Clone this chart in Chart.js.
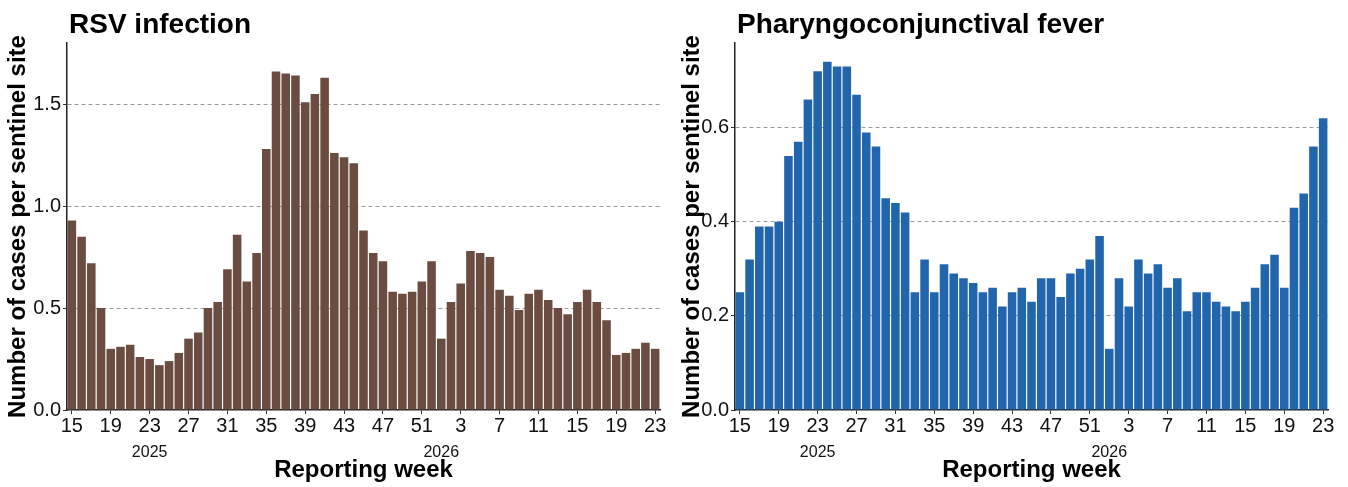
<!DOCTYPE html>
<html>
<head>
<meta charset="utf-8">
<script src="https://cdn.jsdelivr.net/npm/chart.js@4.4.1/dist/chart.umd.min.js"></script>
<style>
  html, body { margin: 0; padding: 0; background: #fff; }
  #wrap { display: flex; width: 1348px; height: 487px; }
  .panel { width: 674px; height: 487px; }
</style>
</head>
<body>
<div id="wrap">
  <div class="panel"><canvas id="rsv" width="674" height="487"></canvas></div>
  <div class="panel"><canvas id="pcf" width="674" height="487"></canvas></div>
</div>
<script>
// reporting weeks, 2025 week 15 .. 2026 week 23
const weeks = [15,16,17,18,19,20,21,22,23,24,25,26,27,28,29,30,31,32,33,34,
  35,36,37,38,39,40,41,42,43,44,45,46,47,48,49,50,51,52,
  1,2,3,4,5,6,7,8,9,10,11,12,13,14,15,16,17,18,19,20,21,22,23];
const yearNames = ['2025', '2026'];
const yearPos = [8, 38];

const rsvValues = [0.93,0.85,0.72,0.50,0.30,0.31,0.32,0.26,0.25,0.22,
  0.24,0.28,0.35,0.38,0.50,0.53,0.69,0.86,0.63,0.77,
  1.28,1.66,1.65,1.64,1.51,1.55,1.63,1.26,1.24,1.21,
  0.88,0.77,0.73,0.58,0.57,0.58,0.63,0.73,
  0.35,0.53,0.62,0.78,0.77,0.75,0.59,0.56,0.49,0.57,
  0.59,0.54,0.50,0.47,0.53,0.59,0.53,0.44,0.27,0.28,
  0.30,0.33,0.30];

const pcfValues = [0.25,0.32,0.39,0.39,0.40,0.54,0.57,0.66,0.72,0.74,
  0.73,0.73,0.67,0.59,0.56,0.45,0.44,0.42,0.25,0.32,
  0.25,0.31,0.29,0.28,0.27,0.25,0.26,0.22,0.25,0.26,
  0.23,0.28,0.28,0.24,0.29,0.30,0.32,0.37,
  0.13,0.28,0.22,0.32,0.29,0.31,0.26,0.28,0.21,0.25,
  0.25,0.23,0.22,0.21,0.23,0.26,0.31,0.33,0.26,0.43,
  0.46,0.56,0.62];

const yearLabels = weeks.map((w, i) => {
  const k = yearPos.indexOf(i);
  return k >= 0 ? yearNames[k] : '';
});

const FONT = '"Liberation Sans", Arial, sans-serif';

// title drawn flush with the plot's left edge
const panelTitle = {
  id: 'panelTitle',
  afterDraw(chart, args, opts) {
    const ctx = chart.ctx;
    ctx.save();
    ctx.font = 'bold 28px ' + FONT;
    ctx.fillStyle = '#000';
    ctx.textBaseline = 'alphabetic';
    ctx.fillText(opts.text, chart.chartArea.left + 2, 33);
    ctx.restore();
  }
};

function makeChart(id, title, values, color, yMax, step, yWidth, yTitlePad, rightPad) {
  return new Chart(document.getElementById(id), {
    type: 'bar',
    data: {
      labels: weeks.map(String),
      datasets: [{
        data: values,
        backgroundColor: color,
        borderWidth: 0,
        barPercentage: 0.88,
        categoryPercentage: 1.0
      }]
    },
    options: {
      responsive: false,
      animation: false,
      layout: { padding: { top: 43, right: rightPad, left: 0, bottom: 0 } },
      plugins: {
        legend: { display: false },
        tooltip: { enabled: false },
        panelTitle: { text: title }
      },
      scales: {
        x: {
          type: 'category',
          weight: 0,
          grid: {
            offset: false,
            drawOnChartArea: false,
            tickLength: 4,
            tickColor: (c) => (c.index % 4 === 0 ? '#333' : 'transparent')
          },
          border: { color: '#222', width: 1.5 },
          ticks: {
            autoSkip: false,
            maxRotation: 0,
            minRotation: 0,
            padding: 0,
            color: '#111',
            font: { family: FONT, size: 20 },
            callback: (v, i) => (i % 4 === 0 ? String(weeks[i]) : '')
          },
          afterFit: (s) => { s.height = 30; }
        },
        x2: {
          type: 'category',
          position: 'bottom',
          weight: 1,
          offset: true,
          labels: yearLabels,
          grid: { display: false, drawTicks: false },
          border: { display: false },
          ticks: {
            autoSkip: false,
            maxRotation: 0,
            minRotation: 0,
            padding: 3,
            color: '#111',
            font: { family: FONT, size: 16 }
          },
          title: {
            display: true,
            text: 'Reporting week',
            color: '#000',
            font: { family: FONT, size: 24, weight: 'bold' },
            padding: { top: 0, bottom: 2 }
          },
          afterFit: (s) => { s.height = 47; }
        },
        y: {
          min: 0,
          max: yMax,
          grid: {
            color: (c) => (c.tick && c.tick.value === 0 ? 'transparent' : '#9a9a9a'),
            lineWidth: 1,
            tickLength: 4,
            tickColor: '#333'
          },
          border: { color: '#222', width: 1.5, dash: [4, 3] },
          ticks: {
            stepSize: step,
            includeBounds: false,
            padding: 2,
            color: '#111',
            font: { family: FONT, size: 20 },
            callback: (v) => Number(v).toFixed(1)
          },
          title: {
            display: true,
            text: 'Number of cases per sentinel site',
            color: '#000',
            font: { family: FONT, size: 24, weight: 'bold' },
            padding: { top: 4, bottom: 0 }
          },
          afterFit: (s) => { s.width = yWidth; }
        }
      }
    },
    plugins: [panelTitle]
  });
}

makeChart('rsv', 'RSV infection', rsvValues, '#6b4c41', 1.8, 0.5, 67, 4, 14);
makeChart('pcf', 'Pharyngoconjunctival fever', pcfValues, '#2166ac', 0.78, 0.2, 61, 0, 20);
</script>
</body>
</html>
